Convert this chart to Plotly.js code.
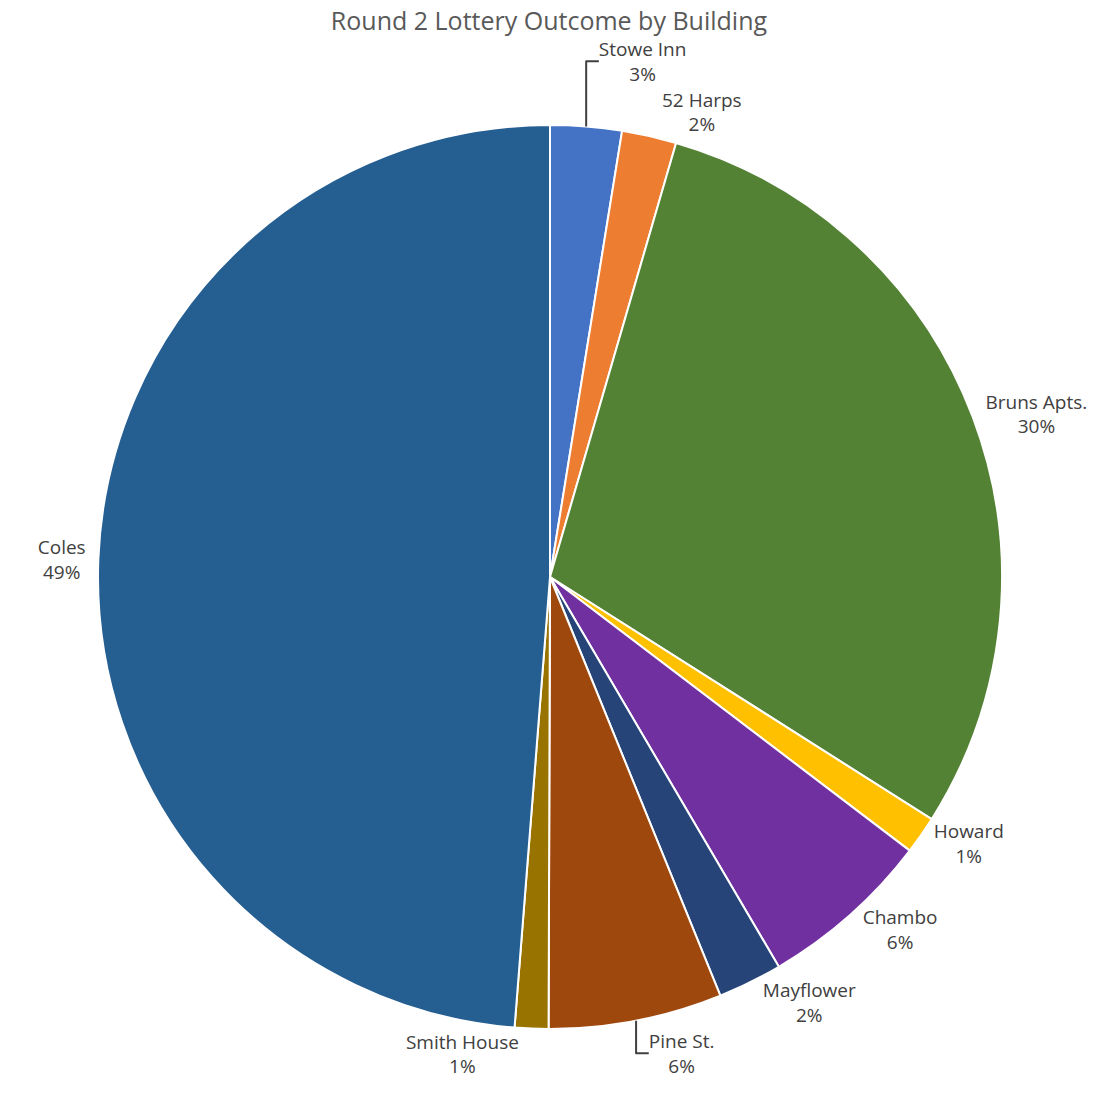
<!DOCTYPE html>
<html>
<head>
<meta charset="utf-8">
<script src="https://cdn.plot.ly/plotly-3.0.1.min.js"></script>
<style>html,body{margin:0;padding:0;background:#fff;}#chart{width:1118px;height:1107px;}</style>
</head>
<body>
<div id="chart"></div>
<script>
const buildings = ["Stowe Inn", "52 Harps", "Bruns Apts.", "Howard", "Chambo", "Mayflower", "Pine St.", "Smith House", "Coles"];
const shares = [2.55, 1.95, 29.5, 1.35, 6.2, 2.3, 6.2, 1.2, 48.75];
const colors = ["#4472C4", "#ED7D31", "#548235", "#FFC000", "#7030A0", "#264478", "#9E480E", "#997300", "#255E91"];

const trace = {
  type: "pie",
  labels: buildings,
  values: shares,
  sort: false,
  direction: "clockwise",
  rotation: 0,
  marker: {colors: colors, line: {color: "#ffffff", width: 2}},
  textposition: "outside",
  texttemplate: "%{label}<br>%{percent:.0%}",
  hoverinfo: "label+percent",
  textfont: {family: "Open Sans, Liberation Sans, sans-serif", size: 19, color: "#404040"},
  automargin: false,
  showlegend: false
};

const layout = {
  width: 1118,
  height: 1107,
  margin: {l: 98, r: 116, t: 125, b: 78},
  paper_bgcolor: "#ffffff",
  title: {
    text: "Round 2 Lottery Outcome by Building",
    font: {family: "Open Sans, Liberation Sans, sans-serif", size: 25, color: "#595959"},
    x: 0.491, xanchor: "center", y: 0.989, yanchor: "top"
  },
  showlegend: false
};

Plotly.newPlot("chart", [trace], layout, {displayModeBar: false, staticPlot: true});
</script>
</body>
</html>
